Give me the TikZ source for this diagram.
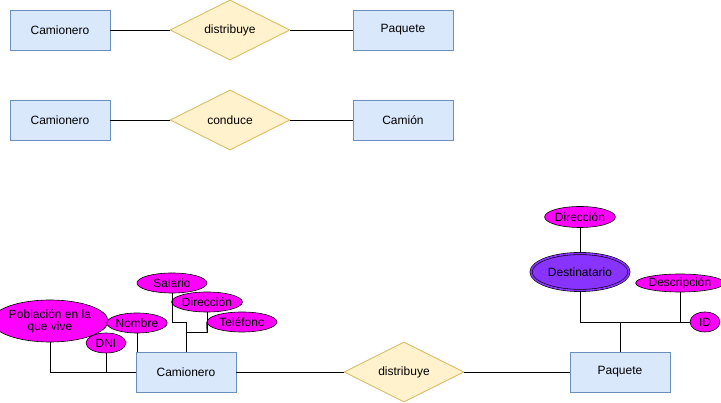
\documentclass[tikz,border=0pt]{standalone}
\usepackage{fontspec}
\setmainfont{Liberation Sans}
\usetikzlibrary{shapes.geometric}
\definecolor{entfill}{HTML}{DAE8FC}
\definecolor{entdraw}{HTML}{6C8EBF}
\definecolor{relfill}{HTML}{FFF2CC}
\definecolor{reldraw}{HTML}{D6B656}
\definecolor{attfill}{HTML}{FF00FF}
\definecolor{multfill}{HTML}{8833FF}
\begin{document}
\begin{tikzpicture}[x=1pt,y=-1pt,
  every node/.style={font=\fontsize{12}{14}\selectfont, inner sep=0pt},
  entity/.style={draw=entdraw, fill=entfill, minimum width=100pt, minimum height=40pt, line width=0.8pt},
  rel/.style={diamond, draw=reldraw, fill=relfill, minimum width=120pt, minimum height=60pt, aspect=2, line width=0.8pt},
  attr/.style={ellipse, draw=black, fill=attfill, line width=0.6pt, font=\fontsize{12}{13}\selectfont, align=center},
  link/.style={draw=black, line width=0.8pt}]
\useasboundingbox (0,0) rectangle (721,403);
% top row
\node[entity] (c1) at (60,30) {Camionero};
\node[rel] (r1) at (230,30) {distribuye};
\node[entity] (p1) at (403,30) {Paquete};
\draw[link] (c1) -- (r1) (r1) -- (p1);
% second row
\node[entity] (c2) at (60,120) {Camionero};
\node[rel] (r2) at (230,120) {conduce};
\node[entity] (cam) at (403,120) {Camión};
\draw[link] (c2) -- (r2) (r2) -- (cam);
% bottom
\node[entity] (c3) at (186,372) {Camionero};
\node[rel] (r3) at (404,372) {distribuye};
\node[entity] (p3) at (620,372) {Paquete};
\draw[link] (c3) -- (r3) (r3) -- (p3);
% Camionero attributes
\node[attr, minimum width=100pt, minimum height=42pt] (pob) at (50,321) {Población en la\\[-1pt]que vive};
\node[attr, minimum width=40pt, minimum height=20pt] (dni) at (106,343) {DNI};
\node[attr, minimum width=60pt, minimum height=20pt] (nom) at (137,323) {Nombre};
\node[attr, minimum width=70pt, minimum height=20pt] (sal) at (172,283) {Salario};
\node[attr, minimum width=60pt, minimum height=20pt] (dir) at (207,302) {Dirección};
\node[attr, minimum width=70pt, minimum height=20pt] (tel) at (242,322) {Teléfono};
\draw[link] (pob.south) |- (c3.west);
\draw[link] (dni.south) -- (106,372);
\draw[link] (nom.south) -- (nom.south |- c3.north);
\draw[link] (sal.south) |- (186,322) -- (c3.north);
\draw[link] (dir.south) |- (186,332);
\draw[link] (tel.west) -- (207,332);
% Paquete attributes
\node[attr, minimum width=70pt, minimum height=21pt] (dir2) at (580,217) {Dirección};
\node[attr, fill=multfill, double=multfill, double distance=1.6pt, line width=0.6pt, minimum width=98pt, minimum height=37pt] (dest) at (580,272) {Destinatario};
\node[attr, minimum width=80pt, minimum height=18pt] (desc) at (680,283) {Descripción};
\node[attr, minimum width=30pt, minimum height=20pt] (id) at (705,322) {ID};
\draw[link] (dir2.south) -- (dest.north);
\draw[link] (dest.south) |- (620,322) -- (p3.north);
\draw[link] (desc.south) -- (680,322);
\draw[link] (id.west) -- (620,322);
\end{tikzpicture}
\end{document}
